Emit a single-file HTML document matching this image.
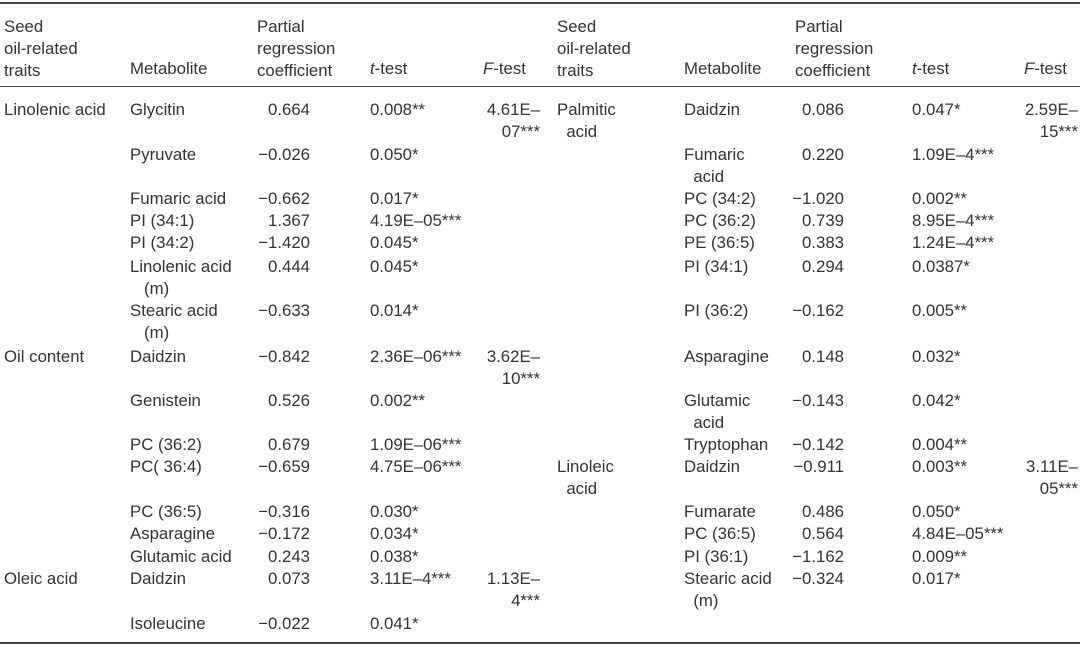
<!DOCTYPE html>
<html><head><meta charset="utf-8"><style>
body{margin:0;width:1080px;height:647px;background:#fff;position:relative;overflow:hidden;font-family:"Liberation Sans",Arial,sans-serif;font-size:16.8px;color:#333}
span{position:absolute;white-space:nowrap;line-height:18px;margin-top:1px}
.r{text-align:right}
.rule{position:absolute;left:0;width:1080px;background:#444}
i{font-style:italic}
</style></head><body>
<div class="rule" style="top:2px;height:2px"></div>
<div class="rule" style="top:86px;height:1px"></div>
<div class="rule" style="top:642px;height:2px"></div>

<span style="left:4px;top:15px;line-height:22px">Seed<br>oil-related<br>traits</span>
<span style="left:130px;top:59px">Metabolite</span>
<span style="left:257px;top:15px;line-height:22px">Partial<br>regression<br>coefficient</span>
<span style="left:370px;top:59px"><i>t</i>-test</span>
<span style="left:483px;top:59px"><i>F</i>-test</span>
<span style="left:557px;top:15px;line-height:22px">Seed<br>oil-related<br>traits</span>
<span style="left:684px;top:59px">Metabolite</span>
<span style="left:795px;top:15px;line-height:22px">Partial<br>regression<br>coefficient</span>
<span style="left:912px;top:59px"><i>t</i>-test</span>
<span style="left:1024px;top:59px"><i>F</i>-test</span>

<span style="left:4px;top:100px">Linolenic acid</span>
<span style="left:4px;top:347px">Oil content</span>
<span style="left:4px;top:569px">Oleic acid</span>

<span style="left:130px;top:100px">Glycitin</span>
<span style="left:130px;top:145px">Pyruvate</span>
<span style="left:130px;top:189px">Fumaric acid</span>
<span style="left:130px;top:211px">PI (34:1)</span>
<span style="left:130px;top:233px">PI (34:2)</span>
<span style="left:130px;top:257px">Linolenic acid</span>
<span style="left:144px;top:279px">(m)</span>
<span style="left:130px;top:301px">Stearic acid</span>
<span style="left:144px;top:323px">(m)</span>
<span style="left:130px;top:347px">Daidzin</span>
<span style="left:130px;top:391px">Genistein</span>
<span style="left:130px;top:435px">PC (36:2)</span>
<span style="left:130px;top:457px">PC( 36:4)</span>
<span style="left:130px;top:502px">PC (36:5)</span>
<span style="left:130px;top:524px">Asparagine</span>
<span style="left:130px;top:547px">Glutamic acid</span>
<span style="left:130px;top:569px">Daidzin</span>
<span style="left:130px;top:614px">Isoleucine</span>

<span class="r" style="right:770px;top:100px">0.664</span>
<span class="r" style="right:770px;top:145px">−0.026</span>
<span class="r" style="right:770px;top:189px">−0.662</span>
<span class="r" style="right:770px;top:211px">1.367</span>
<span class="r" style="right:770px;top:233px">−1.420</span>
<span class="r" style="right:770px;top:257px">0.444</span>
<span class="r" style="right:770px;top:301px">−0.633</span>
<span class="r" style="right:770px;top:347px">−0.842</span>
<span class="r" style="right:770px;top:391px">0.526</span>
<span class="r" style="right:770px;top:435px">0.679</span>
<span class="r" style="right:770px;top:457px">−0.659</span>
<span class="r" style="right:770px;top:502px">−0.316</span>
<span class="r" style="right:770px;top:524px">−0.172</span>
<span class="r" style="right:770px;top:547px">0.243</span>
<span class="r" style="right:770px;top:569px">0.073</span>
<span class="r" style="right:770px;top:614px">−0.022</span>

<span style="left:370px;top:100px">0.008**</span>
<span style="left:370px;top:145px">0.050*</span>
<span style="left:370px;top:189px">0.017*</span>
<span style="left:370px;top:211px">4.19E–05***</span>
<span style="left:370px;top:233px">0.045*</span>
<span style="left:370px;top:257px">0.045*</span>
<span style="left:370px;top:301px">0.014*</span>
<span style="left:370px;top:347px">2.36E–06***</span>
<span style="left:370px;top:391px">0.002**</span>
<span style="left:370px;top:435px">1.09E–06***</span>
<span style="left:370px;top:457px">4.75E–06***</span>
<span style="left:370px;top:502px">0.030*</span>
<span style="left:370px;top:524px">0.034*</span>
<span style="left:370px;top:547px">0.038*</span>
<span style="left:370px;top:569px">3.11E–4***</span>
<span style="left:370px;top:614px">0.041*</span>

<span class="r" style="right:540px;line-height:22px;top:98px">4.61E–<br>07***</span>
<span class="r" style="right:540px;line-height:22px;top:345px">3.62E–<br>10***</span>
<span class="r" style="right:540px;line-height:22px;top:567px">1.13E–<br>4***</span>

<span style="left:557px;top:98px;line-height:22px">Palmitic<br>&nbsp;&nbsp;acid</span>
<span style="left:557px;top:455px;line-height:22px">Linoleic<br>&nbsp;&nbsp;acid</span>

<span style="left:684px;top:100px">Daidzin</span>
<span style="left:684px;top:143px;line-height:22px">Fumaric<br>&nbsp;&nbsp;acid</span>
<span style="left:684px;top:189px">PC (34:2)</span>
<span style="left:684px;top:211px">PC (36:2)</span>
<span style="left:684px;top:233px">PE (36:5)</span>
<span style="left:684px;top:257px">PI (34:1)</span>
<span style="left:684px;top:301px">PI (36:2)</span>
<span style="left:684px;top:347px">Asparagine</span>
<span style="left:684px;top:389px;line-height:22px">Glutamic<br>&nbsp;&nbsp;acid</span>
<span style="left:684px;top:435px">Tryptophan</span>
<span style="left:684px;top:457px">Daidzin</span>
<span style="left:684px;top:502px">Fumarate</span>
<span style="left:684px;top:524px">PC (36:5)</span>
<span style="left:684px;top:547px">PI (36:1)</span>
<span style="left:684px;top:567px;line-height:22px">Stearic acid<br>&nbsp;&nbsp;(m)</span>

<span class="r" style="right:236px;top:100px">0.086</span>
<span class="r" style="right:236px;top:145px">0.220</span>
<span class="r" style="right:236px;top:189px">−1.020</span>
<span class="r" style="right:236px;top:211px">0.739</span>
<span class="r" style="right:236px;top:233px">0.383</span>
<span class="r" style="right:236px;top:257px">0.294</span>
<span class="r" style="right:236px;top:301px">−0.162</span>
<span class="r" style="right:236px;top:347px">0.148</span>
<span class="r" style="right:236px;top:391px">−0.143</span>
<span class="r" style="right:236px;top:435px">−0.142</span>
<span class="r" style="right:236px;top:457px">−0.911</span>
<span class="r" style="right:236px;top:502px">0.486</span>
<span class="r" style="right:236px;top:524px">0.564</span>
<span class="r" style="right:236px;top:547px">−1.162</span>
<span class="r" style="right:236px;top:569px">−0.324</span>

<span style="left:912px;top:100px">0.047*</span>
<span style="left:912px;top:145px">1.09E–4***</span>
<span style="left:912px;top:189px">0.002**</span>
<span style="left:912px;top:211px">8.95E–4***</span>
<span style="left:912px;top:233px">1.24E–4***</span>
<span style="left:912px;top:257px">0.0387*</span>
<span style="left:912px;top:301px">0.005**</span>
<span style="left:912px;top:347px">0.032*</span>
<span style="left:912px;top:391px">0.042*</span>
<span style="left:912px;top:435px">0.004**</span>
<span style="left:912px;top:457px">0.003**</span>
<span style="left:912px;top:502px">0.050*</span>
<span style="left:912px;top:524px">4.84E–05***</span>
<span style="left:912px;top:547px">0.009**</span>
<span style="left:912px;top:569px">0.017*</span>

<span class="r" style="right:2px;line-height:22px;top:98px">2.59E–<br>15***</span>
<span class="r" style="right:2px;line-height:22px;top:455px">3.11E–<br>05***</span>
</body></html>
